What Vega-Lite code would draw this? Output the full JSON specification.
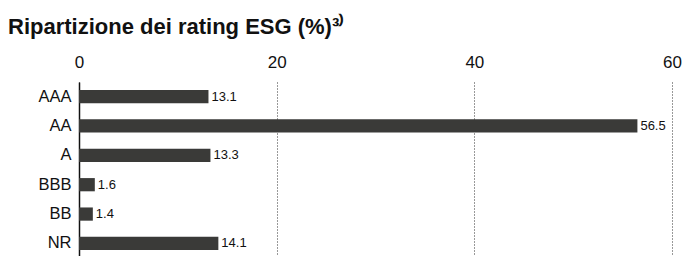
{
  "$schema": "https://vega.github.io/schema/vega-lite/v6.json",
  "width": 593,
  "height": 176,
  "autosize": "none",
  "padding": {"left": 79, "top": 82, "right": 16, "bottom": 0},
  "background": "white",
  "title": {
    "text": "Ripartizione dei rating ESG (%)³⁾",
    "anchor": "start",
    "frame": "group",
    "dx": -71,
    "font": "Liberation Sans",
    "fontSize": 22,
    "fontWeight": "bold",
    "color": "#111111",
    "offset": 14
  },
  "config": {
    "view": {"stroke": null},
    "font": "Liberation Sans"
  },
  "data": {
    "values": [
      {"rating": "AAA", "value": 13.1},
      {"rating": "AA", "value": 56.5},
      {"rating": "A", "value": 13.3},
      {"rating": "BBB", "value": 1.6},
      {"rating": "BB", "value": 1.4},
      {"rating": "NR", "value": 14.1}
    ]
  },
  "encoding": {
    "y": {
      "field": "rating",
      "type": "nominal",
      "sort": null,
      "scale": {"paddingInner": 0.55, "paddingOuter": 0.27},
      "axis": {
        "title": null,
        "ticks": false,
        "domain": true,
        "domainColor": "#111111",
        "domainWidth": 1.5,
        "labelFontSize": 16.5,
        "labelColor": "#111111",
        "labelPadding": 8
      }
    },
    "x": {
      "field": "value",
      "type": "quantitative",
      "scale": {"domain": [0, 60], "nice": false},
      "axis": {
        "orient": "top",
        "title": null,
        "values": [0, 20, 40, 60],
        "ticks": false,
        "domain": false,
        "grid": true,
        "gridDash": [1, 2],
        "gridColor": "#333333",
        "gridWidth": 1,
        "labelFlush": false,
        "labelFontSize": 17,
        "labelColor": "#111111",
        "labelPadding": 11
      }
    }
  },
  "layer": [
    {"mark": {"type": "bar", "color": "#3a3a38"}},
    {
      "mark": {"type": "text", "align": "left", "baseline": "middle", "dx": 3, "fontSize": 13, "color": "#111111"},
      "encoding": {"text": {"field": "value", "type": "quantitative", "format": ".1f"}}
    }
  ]
}
